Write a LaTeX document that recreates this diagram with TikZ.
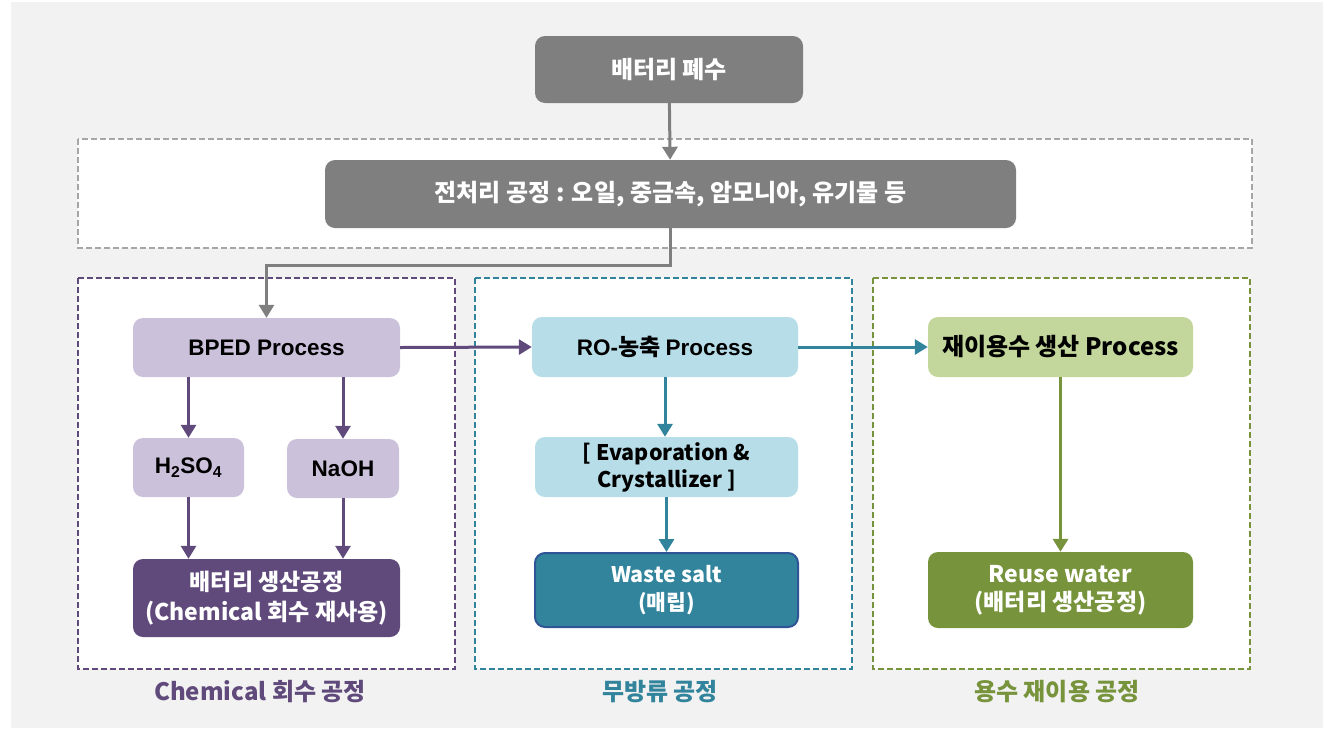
\documentclass[tikz,border=0pt]{standalone}
\usepackage{fontspec}
\setmainfont{Noto Sans CJK KR}
\newfontfamily\ar{Liberation Sans}
\usetikzlibrary{arrows.meta}
\definecolor{bggray}{HTML}{F2F2F2}
\definecolor{boxgray}{HTML}{7F7F7F}
\definecolor{dashgray}{HTML}{A6A6A6}
\definecolor{purp}{HTML}{604A7B}
\definecolor{lpurp}{HTML}{CCC1DA}
\definecolor{teal}{HTML}{31849B}
\definecolor{lteal}{HTML}{B7DEE8}
\definecolor{dblue}{HTML}{2F5597}
\definecolor{grn}{HTML}{77933C}
\definecolor{lgrn}{HTML}{C3D69B}
\tikzset{
  box/.style={rectangle, rounded corners=10pt, inner sep=2pt, align=center, font=\bfseries\fontsize{22}{29}\selectfont},
  kfont/.style={font=\bfseries\fontsize{24}{29}\selectfont},
  afont/.style={font=\bfseries\fontsize{22.5}{29}\selectfont},
  grp/.style={line width=2pt, dash pattern=on 6pt off 3pt, fill=white},
  conn/.style={line width=3pt, -{Triangle[width=15pt,length=13pt]}},
  lbl/.style={font=\bfseries\fontsize{24}{28}\selectfont}
}
\begin{document}
\begin{tikzpicture}[x=1pt,y=-1pt]
\useasboundingbox (0,0) rectangle (1332,729);
\fill[white] (0,0) rectangle (1332,729);
\fill[bggray] (11,2) rectangle (1323,728);
% group frames
\draw[grp, draw=dashgray] (78,139) rectangle (1252,248);
\draw[grp, draw=purp] (78,278) rectangle (455,669);
\draw[grp, draw=teal] (475,278) rectangle (852,669);
\draw[grp, draw=grn] (873,278) rectangle (1250,669);
% top nodes
\node[box, kfont, fill=boxgray, text=white, minimum width=268pt, minimum height=67pt] (src) at (669,69.5) {배터리 폐수};
\node[box, kfont, fill=boxgray, text=white, minimum width=691pt, minimum height=68pt] (pre) at (670.5,194) {전처리 공정 : 오일, 중금속, 암모니아, 유기물 등};
% chemical
\node[box, afont, fill=lpurp, minimum width=267pt, minimum height=59pt] (bped) at (266.5,347.5) {\ar BPED Process};
\node[box, afont, fill=lpurp, minimum width=111pt, minimum height=59pt] (h2) at (188.5,467.5) {\ar H\textsubscript{2}SO\textsubscript{4}};
\node[box, afont, fill=lpurp, minimum width=112pt, minimum height=59pt] (naoh) at (343,468.5) {\ar NaOH};
\node[box, font=\bfseries\fontsize{23}{30}\selectfont, fill=purp, text=white, minimum width=267pt, minimum height=78pt] (bat) at (266.5,598) {배터리 생산공정\\(Chemical 회수 재사용)};
% zld
\node[box, afont, fill=lteal, minimum width=266pt, minimum height=60pt] (ro) at (665,347) {{\ar RO-}{\fontsize{23}{29}\selectfont 농축} {\ar Process}};
\node[box, font=\bfseries\fontsize{21.5}{27}\selectfont, fill=lteal, minimum width=263pt, minimum height=60pt] (evap) at (666.5,467) {[ Evaporation \&\\Crystallizer ]};
\node[box, font=\bfseries\fontsize{21.5}{28}\selectfont, fill=teal, draw=dblue, line width=2pt, text=white, minimum width=263pt, minimum height=74pt] (waste) at (666.5,590) {Waste salt\\(매립)};
% reuse
\node[box, kfont, fill=lgrn, minimum width=265pt, minimum height=60pt] (rp) at (1060.5,347) {재이용수 생산 Process};
\node[box, font=\bfseries\fontsize{23}{28}\selectfont, fill=grn, text=white, minimum width=265pt, minimum height=76pt] (rw) at (1060.5,590) {Reuse water\\(배터리 생산공정)};
% labels
\node[lbl, text=purp] (l1) at (260,692) {Chemical 회수 공정};
\node[lbl, text=teal] (l2) at (660,692) {무방류 공정};
\node[lbl, text=grn] (l3) at (1057,692) {용수 재이용 공정};
% connectors
\draw[conn, boxgray] (src) -- (pre);
\draw[conn, boxgray] (pre.south) -- ++(0,37) -| (bped.north);
\draw[conn, purp] (bped.south -| h2) -- (h2.north);
\draw[conn, purp] (bped.south -| naoh) -- (naoh.north);
\draw[conn, purp] (h2.south) -- (bat.north -| h2);
\draw[conn, purp] (naoh.south) -- (bat.north -| naoh);
\draw[conn, purp] (bped.east) -- (ro.west);
\draw[conn, teal] (ro.south) -- (evap.north -| ro);
\draw[conn, teal] (evap.south) -- (waste.north -| evap);
\draw[conn, teal] (ro.east) -- (rp.west);
\draw[conn, grn] (rp.south) -- (rw.north);
\end{tikzpicture}
\end{document}
